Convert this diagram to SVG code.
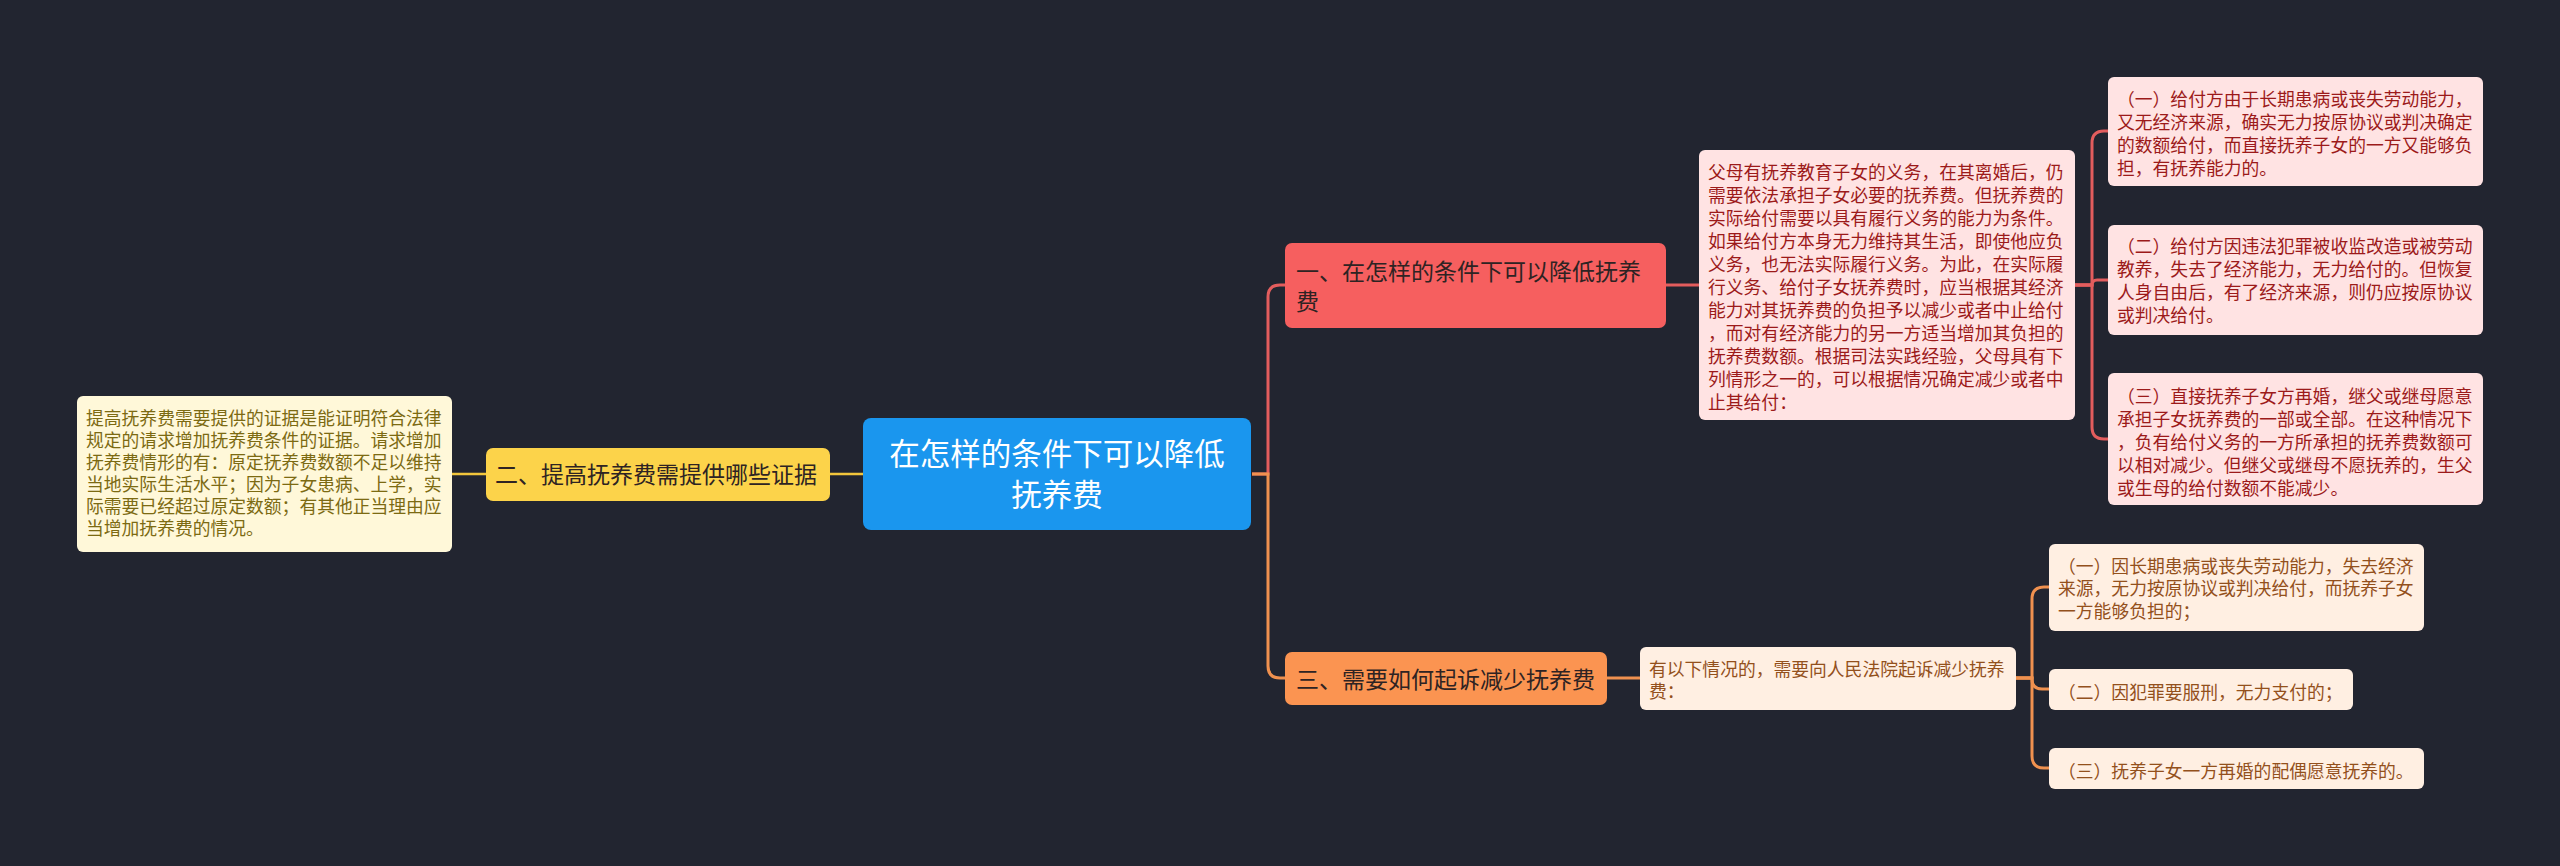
<svg xmlns="http://www.w3.org/2000/svg" width="2560" height="866" viewBox="0 0 2560 866">
<style>
text{font-family:"Noto Sans CJK SC","Noto Sans",sans-serif;}
.p{font-size:17.8px;}
.pr{fill:#9c1a1a;}
.po{fill:#93501c;}
.py{fill:#7c6a12;}
.n{font-size:23px;fill:#2e2323;}
.c{font-size:30.5px;fill:#ffffff;}
.lr{fill:none;stroke:#e35d5d;stroke-width:3;}
.lo{fill:none;stroke:#f0914f;stroke-width:3;}
.ly{fill:none;stroke:#f2c63c;stroke-width:2.5;}
</style>
<rect width="2560" height="866" fill="#222530"/>
<g id="connectors">
<path class="lr" d="M1252,474 H1268 V297 Q1268,285 1280,285 H1285"/>
<path class="lo" d="M1252,474 H1268 V666 Q1268,678 1280,678 H1285"/>
<path class="ly" d="M830,474 H863"/>
<path class="ly" d="M452,474 H486"/>
<path class="lr" d="M1666,285 H1699"/>
<path class="lr" d="M2075,285 H2092 V143 Q2092,131 2104,131 H2108"/>
<path class="lr" d="M2075,285 H2092 Q2092,280 2097,280 H2108"/>
<path class="lr" d="M2075,285 H2092 V427 Q2092,439 2104,439 H2108"/>
<path class="lo" d="M1607,678 H1640"/>
<path class="lo" d="M2016,678 H2032 V599 Q2032,587 2044,587 H2049"/>
<path class="lo" d="M2016,678 H2032 V679 Q2032,689 2042,689 H2049"/>
<path class="lo" d="M2016,678 H2032 V756 Q2032,768 2044,768 H2049"/>
</g>
<g id="center">
<rect x="863" y="418" width="388" height="112" rx="8" fill="#1a96ee"/>
<text class="c" x="1057" y="465" text-anchor="middle">在怎样的条件下可以降低</text>
<text class="c" x="1057" y="506" text-anchor="middle">抚养费</text>
</g>
<g id="node-1">
<rect x="1285" y="243" width="381" height="85" rx="7" fill="#f65f5f"/>
<text class="n" x="1296" y="280">一、在怎样的条件下可以降低抚养</text>
<text class="n" x="1296" y="310">费</text>
</g>
<g id="node-1-para">
<rect x="1699" y="150" width="376" height="270" rx="6" fill="#ffe3e3"/>
<text class="p pr" x="1708" y="179">父母有抚养教育子女的义务，在其离婚后，仍</text>
<text class="p pr" x="1708" y="202">需要依法承担子女必要的抚养费。但抚养费的</text>
<text class="p pr" x="1708" y="225">实际给付需要以具有履行义务的能力为条件。</text>
<text class="p pr" x="1708" y="248">如果给付方本身无力维持其生活，即使他应负</text>
<text class="p pr" x="1708" y="271">义务，也无法实际履行义务。为此，在实际履</text>
<text class="p pr" x="1708" y="294">行义务、给付子女抚养费时，应当根据其经济</text>
<text class="p pr" x="1708" y="317">能力对其抚养费的负担予以减少或者中止给付</text>
<text class="p pr" x="1708" y="340">，而对有经济能力的另一方适当增加其负担的</text>
<text class="p pr" x="1708" y="363">抚养费数额。根据司法实践经验，父母具有下</text>
<text class="p pr" x="1708" y="386">列情形之一的，可以根据情况确定减少或者中</text>
<text class="p pr" x="1708" y="409">止其给付：</text>
</g>
<g id="node-1-1">
<rect x="2108" y="77" width="375" height="109" rx="6" fill="#ffe3e3"/>
<text class="p pr" x="2117" y="106">（一）给付方由于长期患病或丧失劳动能力，</text>
<text class="p pr" x="2117" y="129">又无经济来源，确实无力按原协议或判决确定</text>
<text class="p pr" x="2117" y="152">的数额给付，而直接抚养子女的一方又能够负</text>
<text class="p pr" x="2117" y="175">担，有抚养能力的。</text>
</g>
<g id="node-1-2">
<rect x="2108" y="225" width="375" height="110" rx="6" fill="#ffe3e3"/>
<text class="p pr" x="2117" y="253">（二）给付方因违法犯罪被收监改造或被劳动</text>
<text class="p pr" x="2117" y="276">教养，失去了经济能力，无力给付的。但恢复</text>
<text class="p pr" x="2117" y="299">人身自由后，有了经济来源，则仍应按原协议</text>
<text class="p pr" x="2117" y="322">或判决给付。</text>
</g>
<g id="node-1-3">
<rect x="2108" y="373" width="375" height="132" rx="6" fill="#ffe3e3"/>
<text class="p pr" x="2117" y="403">（三）直接抚养子女方再婚，继父或继母愿意</text>
<text class="p pr" x="2117" y="426">承担子女抚养费的一部或全部。在这种情况下</text>
<text class="p pr" x="2117" y="449">，负有给付义务的一方所承担的抚养费数额可</text>
<text class="p pr" x="2117" y="472">以相对减少。但继父或继母不愿抚养的，生父</text>
<text class="p pr" x="2117" y="495">或生母的给付数额不能减少。</text>
</g>
<g id="node-2">
<rect x="486" y="448" width="344" height="53" rx="7" fill="#fcd34a"/>
<text class="n" x="495" y="483">二、提高抚养费需提供哪些证据</text>
</g>
<g id="node-2-para">
<rect x="77" y="396" width="375" height="156" rx="6" fill="#fff8d9"/>
<text class="p py" x="86" y="425">提高抚养费需要提供的证据是能证明符合法律</text>
<text class="p py" x="86" y="447">规定的请求增加抚养费条件的证据。请求增加</text>
<text class="p py" x="86" y="469">抚养费情形的有：原定抚养费数额不足以维持</text>
<text class="p py" x="86" y="491">当地实际生活水平；因为子女患病、上学，实</text>
<text class="p py" x="86" y="513">际需要已经超过原定数额；有其他正当理由应</text>
<text class="p py" x="86" y="535">当增加抚养费的情况。</text>
</g>
<g id="node-3">
<rect x="1285" y="652" width="322" height="53" rx="7" fill="#fb9451"/>
<text class="n" x="1296" y="688">三、需要如何起诉减少抚养费</text>
</g>
<g id="node-3-para">
<rect x="1640" y="647" width="376" height="63" rx="6" fill="#ffefe2"/>
<text class="p po" x="1649" y="676">有以下情况的，需要向人民法院起诉减少抚养</text>
<text class="p po" x="1649" y="698">费：</text>
</g>
<g id="node-3-1">
<rect x="2049" y="544" width="375" height="87" rx="6" fill="#ffefe2"/>
<text class="p po" x="2058" y="573">（一）因长期患病或丧失劳动能力，失去经济</text>
<text class="p po" x="2058" y="595">来源，无力按原协议或判决给付，而抚养子女</text>
<text class="p po" x="2058" y="618">一方能够负担的；</text>
</g>
<g id="node-3-2">
<rect x="2049" y="669" width="304" height="41" rx="6" fill="#ffefe2"/>
<text class="p po" x="2058" y="699">（二）因犯罪要服刑，无力支付的；</text>
</g>
<g id="node-3-3">
<rect x="2049" y="748" width="375" height="41" rx="6" fill="#ffefe2"/>
<text class="p po" x="2058" y="778">（三）抚养子女一方再婚的配偶愿意抚养的。</text>
</g>
</svg>
